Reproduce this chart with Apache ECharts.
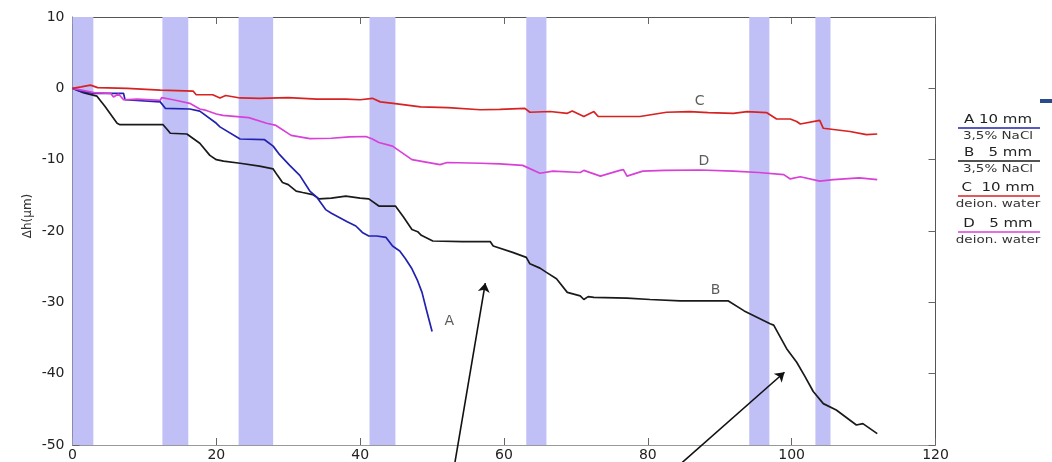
<!DOCTYPE html>
<html>
<head>
<meta charset="utf-8">
<script src="https://cdn.jsdelivr.net/npm/echarts@6/dist/echarts.min.js"></script>
<style>html,body{margin:0;padding:0;background:#fff}#c{width:1052px;height:462px}</style>
</head>
<body>
<div id="c"></div>
<script>
// ---- data ----
const xTicks = [0, 20, 40, 60, 80, 100, 120];
const yTicks = [-50, -40, -30, -20, -10, 0, 10];
const bandStart = [0, 12.5, 23.1, 41.3, 63.1, 94.1, 103.3];
const bandEnd   = [2.9, 16.1, 27.9, 44.9, 65.9, 96.9, 105.4];

const seriesA = [[0,0],[1,-0.4],[3,-0.7],[7.1,-0.7],[7.3,-1.6],[12.2,-1.9],[12.9,-2.8],[16.3,-2.9],[17.7,-3.2],[20,-4.9],[20.5,-5.4],[23.3,-7.1],[26.7,-7.2],[27.9,-8.1],[28.8,-9.3],[30.2,-10.8],[31.6,-12.2],[33,-14.4],[34,-15.3],[35.2,-17.0],[36,-17.5],[37.1,-18.1],[38.2,-18.7],[39.4,-19.3],[40.3,-20.2],[41.2,-20.7],[42.3,-20.7],[43.6,-20.9],[44.5,-22.1],[45.5,-22.8],[46.3,-23.9],[47.2,-25.3],[48,-27.0],[48.6,-28.6],[49.2,-31.0],[50.0,-34.1]];

const seriesB = [[0,0],[1.5,-0.6],[3.4,-1.1],[4.5,-2.5],[6.2,-4.9],[6.6,-5.1],[12.6,-5.1],[13.2,-5.8],[13.6,-6.3],[15.9,-6.4],[17.7,-7.7],[19.1,-9.4],[20,-10.0],[21,-10.2],[23.3,-10.5],[26,-10.9],[27.9,-11.3],[28.5,-12.2],[29.2,-13.2],[30,-13.5],[31.1,-14.4],[32,-14.6],[33.4,-14.9],[34.3,-15.5],[36,-15.4],[38,-15.1],[40,-15.4],[41.2,-15.5],[42.6,-16.5],[44.9,-16.5],[46,-18.0],[47.2,-19.8],[48,-20.1],[48.5,-20.6],[50.1,-21.4],[54.2,-21.5],[58.1,-21.5],[58.5,-22.1],[61.2,-23.0],[63.1,-23.7],[63.6,-24.6],[65.0,-25.2],[65.9,-25.8],[67.3,-26.7],[68.8,-28.6],[70.6,-29.1],[71.1,-29.6],[71.7,-29.2],[72.5,-29.3],[77.1,-29.4],[80.3,-29.6],[84.5,-29.8],[91.2,-29.8],[93.4,-31.2],[97.0,-33.0],[97.5,-33.2],[99.3,-36.5],[100.7,-38.4],[101.8,-40.3],[103.0,-42.5],[104.4,-44.2],[106.2,-45.1],[109.0,-47.2],[109.9,-47.0],[111.9,-48.4]];

const seriesC = [[0,0],[1.2,0.2],[2.5,0.45],[3.5,0.1],[7.6,0],[12.2,-0.25],[16.8,-0.4],[17.2,-0.9],[19.5,-0.9],[20.5,-1.35],[21.3,-1.0],[23.3,-1.35],[26,-1.4],[30,-1.3],[34,-1.5],[38,-1.5],[40,-1.6],[41.7,-1.4],[42.8,-1.9],[44.6,-2.1],[48.4,-2.6],[52.2,-2.7],[56.7,-3.0],[59.4,-2.95],[62.9,-2.8],[63.6,-3.35],[66.4,-3.25],[68.8,-3.5],[69.5,-3.17],[71.1,-3.95],[72.5,-3.26],[73.1,-3.95],[78.9,-3.95],[82.6,-3.35],[85.8,-3.26],[88.4,-3.4],[91.9,-3.5],[93.8,-3.26],[96.5,-3.4],[97.9,-4.3],[99.8,-4.3],[100.7,-4.65],[101.2,-5.0],[103.9,-4.5],[104.4,-5.6],[108.1,-6.05],[110.4,-6.5],[111.9,-6.4]];

const seriesD = [[0,0],[3,-0.6],[5.3,-0.7],[5.7,-1.2],[6.4,-0.8],[7.1,-1.6],[9,-1.5],[12.2,-1.7],[12.4,-1.3],[14,-1.6],[16.3,-2.1],[17.7,-2.9],[18.6,-3.1],[20,-3.6],[20.9,-3.8],[23.3,-4.0],[24.5,-4.1],[27,-4.9],[28.3,-5.2],[30.4,-6.6],[33,-7.05],[36,-7.0],[38.5,-6.8],[40.8,-6.75],[41.7,-7.1],[42.6,-7.6],[44.5,-8.1],[47.2,-10.0],[51.1,-10.7],[52.1,-10.4],[56.7,-10.5],[59.4,-10.6],[62.6,-10.8],[65.0,-11.9],[66.8,-11.6],[70.6,-11.8],[71.1,-11.5],[73.4,-12.3],[76.1,-11.5],[76.6,-11.4],[77.1,-12.3],[79.3,-11.6],[82.3,-11.5],[87.3,-11.45],[91.9,-11.6],[95.4,-11.8],[98.9,-12.1],[99.8,-12.7],[101.2,-12.4],[103.9,-13.0],[105.8,-12.8],[109.4,-12.55],[111.9,-12.8]];

const curveLabels = [[52.4,-32.7,'A'],[89.4,-28.3,'B'],[87.2,-1.8,'C'],[87.8,-10.3,'D']];
const arrows = [[[53.0,-53.5],[57.4,-27.3]],[[83.6,-53.5],[99.0,-39.8]]];

const legendRows = [
  {top:'A 10 mm', bottom:'3,5% NaCl', color:'#2222b0'},
  {top:'B   5 mm', bottom:'3,5% NaCl', color:'#1a1a1a'},
  {top:'C  10 mm', bottom:'deion. water', color:'#d82222'},
  {top:'D   5 mm', bottom:'deion. water', color:'#d840d8'}
];

// ---- chart ----
const chart = echarts.init(document.getElementById('c'), null, {renderer:'canvas'});
const FONT = 'DejaVu Sans';
function axisCommon(color){
  return {
    axisLine:{show:true, onZero:false, lineStyle:{color, width:1}},
    axisTick:{show:true, inside:true, length:7, lineStyle:{color:'#666'}},
    splitLine:{show:false}
  };
}
function lineSeries(name, data, color){
  return {name, type:'line', data, showSymbol:false, symbol:'none', z:3,
    lineStyle:{color, width:1.7}, itemStyle:{color}, animation:false};
}
const legendY = [120, 153, 188, 224];
const graphics = [];
legendRows.forEach((r,i)=>{
  const y = legendY[i];
  graphics.push({type:'text', x:998, y:y, scaleX:1.25, style:{text:r.top, font:'12px '+FONT, fill:'#222', align:'center', verticalAlign:'middle'}});
  graphics.push({type:'line', shape:{x1:958, y1:y+8, x2:1040, y2:y+8}, style:{stroke:r.color, lineWidth:1.6}});
  graphics.push({type:'text', x:998, y:y+16, scaleX:1.35, style:{text:r.bottom, font:'10px '+FONT, fill:'#333', align:'center', verticalAlign:'middle'}});
});
graphics.push({type:'rect', shape:{x:1040, y:99, width:12, height:4}, style:{fill:'#2a4a8a'}});

chart.setOption({
  animation:false,
  backgroundColor:'#fff',
  grid:{left:72.5, top:17, right:116.5, bottom:15.5, show:false},
  xAxis:[
    Object.assign({type:'value', min:0, max:120, interval:20, position:'bottom',
      axisLabel:{show:true, margin:3, fontFamily:FONT, fontSize:14, color:'#222',
        formatter:v=>xTicks.includes(v)?String(v):''}}, axisCommon('#999')),
    Object.assign({type:'value', min:0, max:120, interval:20, position:'top',
      axisLabel:{show:false}}, axisCommon('#555'))
  ],
  yAxis:[
    Object.assign({type:'value', min:-50, max:10, interval:10, position:'left',
      name:'Δh(μm)', nameLocation:'middle', nameGap:39, nameRotate:90, nameMoveOverlap:false,
      nameTextStyle:{fontFamily:FONT, fontSize:12, color:'#333', padding:[0,0,0,30]},
      axisLabel:{show:true, margin:8, fontFamily:FONT, fontSize:14, color:'#222',
        formatter:v=>yTicks.includes(v)?String(v):''}}, axisCommon('#556')),
    Object.assign({type:'value', min:-50, max:10, interval:10, position:'right',
      axisLabel:{show:false}}, axisCommon('#555'))
  ],
  series:[
    {name:'bands', type:'custom', z:1, silent:true,
      data: bandStart.map((s,i)=>[s, bandEnd[i]]),
      encode:{x:[0,1]},
      renderItem:(params, api)=>{
        const a = api.coord([api.value(0), 10]);
        const b = api.coord([api.value(1), -50]);
        return {type:'rect', shape:{x:a[0], y:a[1], width:b[0]-a[0], height:b[1]-a[1]}, style:{fill:'#c0c0f6'}};
      }},
    lineSeries('B', seriesB, '#1a1a1a'),
    lineSeries('A', seriesA, '#2222b0'),
    lineSeries('D', seriesD, '#d840d8'),
    lineSeries('C', seriesC, '#d82222'),
    {name:'labels', type:'scatter', symbolSize:0, z:4, silent:true,
      data: curveLabels,
      label:{show:true, position:'inside', formatter:p=>p.value[2], fontFamily:FONT, fontSize:14, color:'#333'}},
    {name:'arrows', type:'lines', coordinateSystem:'cartesian2d', clip:false, z:5, silent:true,
      symbol:['none','arrow'], symbolSize:9,
      lineStyle:{color:'#111', width:1.6, opacity:1},
      data: arrows.map(c=>({coords:c}))}
  ],
  graphic: graphics
});
</script>
</body>
</html>
